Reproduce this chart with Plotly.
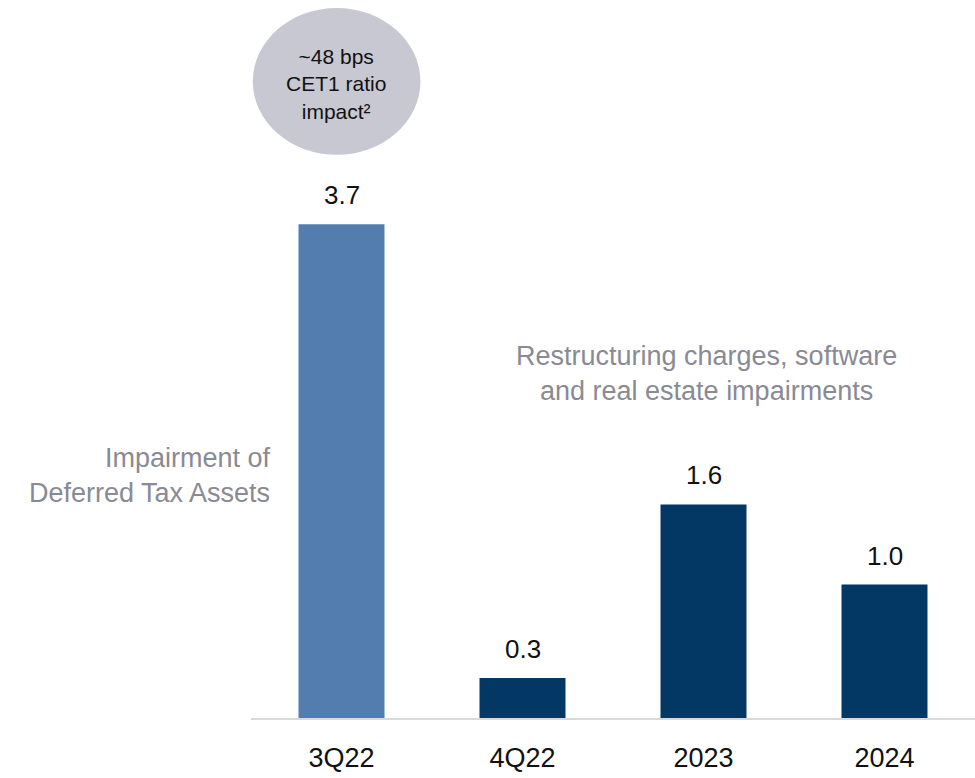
import plotly.graph_objects as go

# Charges by period (USD bn)
periods = ["3Q22", "4Q22", "2023", "2024"]
charges = [3.7, 0.3, 1.6, 1.0]
bar_colors = ["#527DAE", "#033764", "#033764", "#033764"]
value_labels = ["3.7", "0.3", "1.6", "1.0"]

FONT = "Liberation Sans, Arial, Helvetica, sans-serif"
GREY_TEXT = "#8A8A94"

fig = go.Figure()
fig.add_trace(go.Bar(
    x=list(range(len(periods))),
    y=charges,
    marker=dict(color=bar_colors, line=dict(width=0)),
    width=0.475,
    hoverinfo="skip",
))

# value labels above each bar
for i, (v, lab) in enumerate(zip(charges, value_labels)):
    fig.add_annotation(x=i, y=v, text=lab, showarrow=False,
                       xref="x", yref="y", yanchor="bottom", yshift=12,
                       font=dict(family=FONT, size=26, color="#111111"))

# CET1 impact bubble over the first bar
fig.add_shape(type="circle", xref="x", yref="y",
              x0=-0.49, x1=0.436, y0=4.22, y1=5.32,
              fillcolor="#C8C8D2", line=dict(width=0), layer="below")
fig.add_annotation(x=-0.03, y=4.75, xref="x", yref="y", showarrow=False,
                   text="~48 bps<br>CET1 ratio<br>impact²",
                   align="center",
                   font=dict(family=FONT, size=21, color="#111111"))

# category notes
fig.add_annotation(x=-0.381, y=1.82, xref="x", yref="y", showarrow=False,
                   xanchor="right", align="right",
                   text="Impairment of<br>Deferred Tax Assets",
                   font=dict(family=FONT, size=27, color=GREY_TEXT))
fig.add_annotation(x=2.017, y=2.58, xref="x", yref="y", showarrow=False,
                   xanchor="center", align="center",
                   text="Restructuring charges, software<br>and real estate impairments",
                   font=dict(family=FONT, size=27, color=GREY_TEXT))

fig.update_xaxes(
    range=[-0.5, 3.5],
    tickmode="array", tickvals=list(range(len(periods))), ticktext=periods,
    tickfont=dict(family=FONT, size=27, color="#111111"),
    ticks="outside", ticklen=15, tickcolor="rgba(0,0,0,0)",
    showline=True, linecolor="#D9D9D9", linewidth=2,
    showgrid=False, zeroline=False, fixedrange=True,
)
fig.update_yaxes(range=[0, 5.38], visible=False, showgrid=False,
                 zeroline=False, fixedrange=True)

fig.update_layout(
    width=975, height=778,
    margin=dict(l=251, r=0, t=0, b=60),
    paper_bgcolor="white", plot_bgcolor="white",
    showlegend=False,
    font=dict(family=FONT),
)

fig.write_html("out.html", config={"displayModeBar": False})
